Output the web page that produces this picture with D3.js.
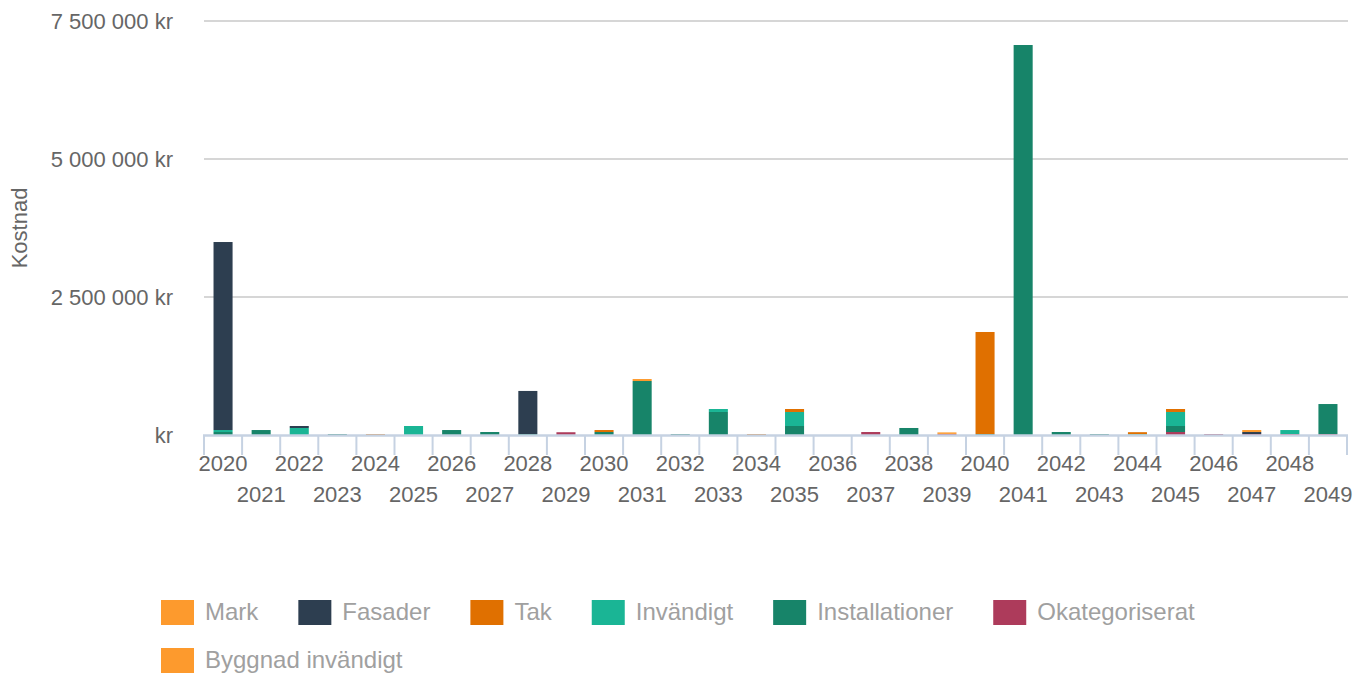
<!DOCTYPE html>
<html>
<head>
<meta charset="utf-8">
<script src="https://cdn.jsdelivr.net/npm/d3@7"></script>
<style>
  html, body { margin: 0; padding: 0; background: #ffffff; }
  svg { display: block; font-family: "Liberation Sans", Arial, Helvetica, sans-serif; }
</style>
</head>
<body>
<svg id="chart" width="1368" height="673"></svg>
<script>
// ---- Data ----
const years = d3.range(2020, 2050).map(String);

const seriesNames = ["Mark", "Fasader", "Tak", "Invändigt", "Installationer", "Okategoriserat", "Byggnad invändigt"];

//               2020     2021   2022    2023   2024   2025    2026   2027   2028    2029   2030   2031    2032   2033    2034   2035    2036 2037   2038    2039   2040     2041     2042   2043   2044   2045    2046   2047   2048   2049
const mark          = [0,       0,     0,      0,     0,     0,      0,     0,     0,      0,     0,     36000,  0,     0,      0,     0,      0,   0,     0,      27000, 0,       0,       0,     0,     0,     0,      0,     36000, 0,     0];
const fasader       = [3406000, 0,     36000,  0,     0,     0,      0,     0,     780000, 0,     0,     0,      0,     0,      0,     0,      0,   0,     0,      0,     0,       0,       0,     0,     0,     0,      0,     36000, 0,     0];
const tak           = [0,       0,     0,      0,     18000, 0,      0,     0,     0,      0,     36000, 0,      0,     0,      18000, 54000,  0,   0,     0,      0,     1848000, 0,       0,     0,     36000, 54000,  0,     0,     0,     0];
const invandigt     = [36000,   0,     127000, 0,     0,     163000, 0,     0,     0,      0,     0,     0,      0,     54000,  0,     254000, 0,   0,     0,      0,     0,       0,       0,     0,     15000, 254000, 0,     0,     72000, 0];
const installationer= [54000,   90000, 0,      18000, 0,     0,      90000, 54000, 18000,  0,     54000, 978000, 18000, 417000, 0,     163000, 0,   0,     127000, 0,     18000,   7065000, 54000, 18000, 0,     109000, 0,     0,     0,     543000];
const okategoriserat= [0,       0,     0,      0,     0,     0,      0,     0,     0,      50000, 0,     0,      0,     0,      0,     0,      0,   54000, 0,      20000, 0,       0,       0,     0,     0,     54000,  18000, 18000, 18000, 18000];
const byggnadInv    = [0,       0,     0,      0,     0,     0,      0,     0,     0,      0,     0,     0,      0,     0,      0,     0,      0,   0,     0,      0,     0,       0,       0,     0,     0,     0,      0,     0,     0,     0];

const yTicks = [0, 2500000, 5000000, 7500000];
const yTickLabels = ["kr", "2 500 000 kr", "5 000 000 kr", "7 500 000 kr"];

const colors = {
  "Mark": "#fd9a2d",
  "Fasader": "#2d3e50",
  "Tak": "#e07000",
  "Invändigt": "#1ab595",
  "Installationer": "#178469",
  "Okategoriserat": "#ad3b5b",
  "Byggnad invändigt": "#fd9a2d"
};

const valuesBySeries = {
  "Mark": mark, "Fasader": fasader, "Tak": tak, "Invändigt": invandigt,
  "Installationer": installationer, "Okategoriserat": okategoriserat, "Byggnad invändigt": byggnadInv
};

// table for the stack
const table = years.map((y, i) => {
  const row = { year: y };
  seriesNames.forEach(s => row[s] = valuesBySeries[s][i]);
  return row;
});

// ---- Layout ----
const svg = d3.select("#chart");
const plotLeft = 204, plotRight = 1347, plotTop = 21, plotBottom = 435;

const x = d3.scaleBand().domain(years).range([plotLeft, plotRight]).padding(0);
const y = d3.scaleLinear().domain([0, 7500000]).range([plotBottom, plotTop]);

// gridlines
svg.append("g").selectAll("line")
  .data(yTicks.filter(d => d > 0))
  .join("line")
  .attr("x1", plotLeft).attr("x2", plotRight + 1)
  .attr("y1", d => y(d)).attr("y2", d => y(d))
  .attr("stroke", "#c8c8c8").attr("stroke-width", 1.5);

// y-axis labels
const yAxis = d3.axisLeft(y).tickValues(yTicks).tickSize(0).tickPadding(0)
  .tickFormat((d, i) => yTickLabels[i]);
const yg = svg.append("g").attr("transform", "translate(173,0)").call(yAxis);
yg.select(".domain").remove();
yg.selectAll("text").attr("font-size", 22).attr("fill", "#666666")
  .attr("font-family", "Liberation Sans, Arial, sans-serif").attr("dy", "0.35em");

// y title
svg.append("text")
  .attr("transform", `translate(27,228) rotate(-90)`)
  .attr("text-anchor", "middle")
  .attr("font-size", 22).attr("fill", "#666666")
  .text("Kostnad");

// stacked bars: bottom -> top order
const stackOrder = ["Byggnad invändigt", "Okategoriserat", "Installationer", "Invändigt", "Tak", "Fasader", "Mark"];
const stacked = d3.stack().keys(stackOrder)(table);

const bw = x.bandwidth();
svg.append("g").selectAll("g")
  .data(stacked)
  .join("g")
  .attr("fill", d => colors[d.key])
  .selectAll("rect")
  .data(d => d.filter(p => p[1] - p[0] > 0))
  .join("rect")
  .attr("x", d => x(d.data.year) + bw * 0.25)
  .attr("width", bw * 0.5)
  .attr("y", d => y(d[1]))
  .attr("height", d => y(d[0]) - y(d[1]));

// x axis
const xAxis = d3.axisBottom(x).tickSize(0).tickPadding(0);
const xg = svg.append("g").attr("transform", `translate(0,${plotBottom})`).call(xAxis);
xg.select(".domain").remove();
xg.selectAll("text")
  .attr("font-size", 22).attr("fill", "#666666")
  .attr("font-family", "Liberation Sans, Arial, sans-serif")
  .attr("dy", null)
  .attr("y", (d, i) => i % 2 === 0 ? 36 : 67);

// axis line and tick marks at band boundaries
const boundaries = years.map(d => x(d)).concat([x(years[years.length - 1]) + bw]);
svg.append("g").selectAll("line")
  .data(boundaries)
  .join("line")
  .attr("x1", d => d).attr("x2", d => d)
  .attr("y1", plotBottom).attr("y2", plotBottom + 20)
  .attr("stroke", "#c6d2e2").attr("stroke-width", 2);
svg.append("line")
  .attr("x1", plotLeft - 1).attr("x2", plotRight + 1)
  .attr("y1", plotBottom + 0.5).attr("y2", plotBottom + 0.5)
  .attr("stroke", "#c6d2e2").attr("stroke-width", 2.5);

// legend
const legend = svg.append("g");
const rows = [seriesNames.slice(0, 6), seriesNames.slice(6)];
rows.forEach((row, ri) => {
  let cx = 161;
  const cy = 612 + ri * 48;
  row.forEach(name => {
    const g = legend.append("g");
    g.append("rect").attr("x", cx).attr("y", cy - 12).attr("width", 33).attr("height", 25)
      .attr("fill", colors[name]);
    const t = g.append("text").attr("x", cx + 44).attr("y", cy).attr("dy", "0.35em")
      .attr("font-size", 24).attr("fill", "#a0a0a0").text(name);
    cx = cx + 44 + t.node().getComputedTextLength() + 40;
  });
});
</script>
</body>
</html>
